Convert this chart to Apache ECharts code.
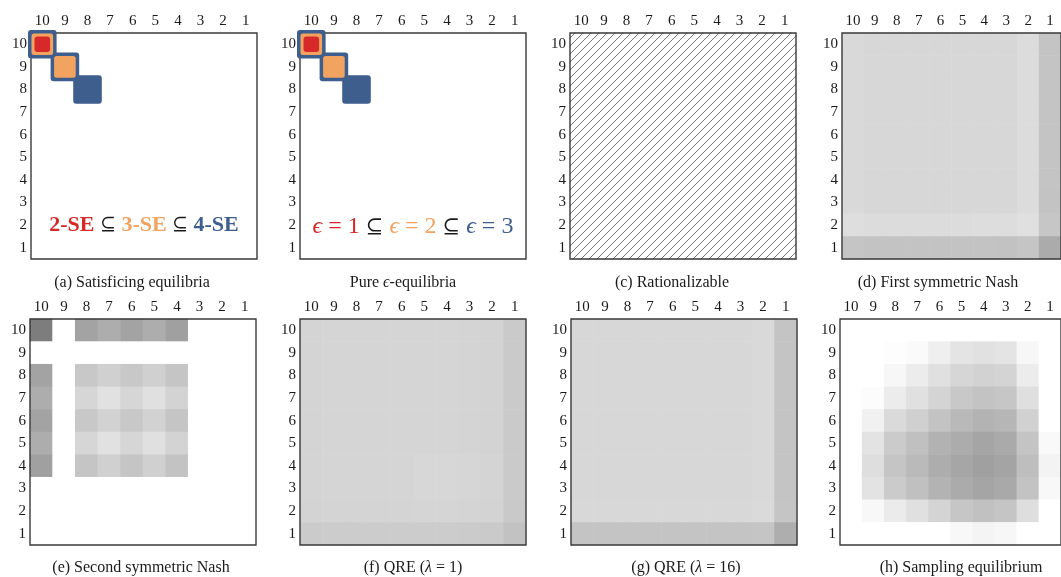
<!DOCTYPE html>
<html><head><meta charset="utf-8">
<script src="https://cdn.jsdelivr.net/npm/echarts@6/dist/echarts.min.js"></script>
<style>html,body{margin:0;padding:0;background:#fff}#c{width:1061px;height:577px}</style>
</head><body><div id="c"></div>
<script>
// ---------------- DATA ----------------
const xCats = ['10','9','8','7','6','5','4','3','2','1'];
const yCats = ['1','2','3','4','5','6','7','8','9','10'];

const captions = ['(a) Satisficing equilibria','Pure ϵ-equilibria','(c) Rationalizable','(d) First symmetric Nash',
                  '(e) Second symmetric Nash','(f) QRE (λ = 1)','(g) QRE (λ = 16)','(h) Sampling equilibrium'];

// (a) satisficing equilibria, cells as [column, row]
const se2 = [[10,10]];
const se3 = [[10,10],[9,9]];
const se4 = [[10,10],[9,9],[8,8]];
// (b) pure epsilon-equilibria
const eps1 = [[10,10]];
const eps2 = [[10,10],[9,9]];
const eps3 = [[10,10],[9,9],[8,8]];

// (c) rationalizable profiles (1 = rationalizable); rows 10->1, columns 10->1
const rationalizable = [
  [1,1,1,1,1,1,1,1,1,1],[1,1,1,1,1,1,1,1,1,1],[1,1,1,1,1,1,1,1,1,1],[1,1,1,1,1,1,1,1,1,1],[1,1,1,1,1,1,1,1,1,1],
  [1,1,1,1,1,1,1,1,1,1],[1,1,1,1,1,1,1,1,1,1],[1,1,1,1,1,1,1,1,1,1],[1,1,1,1,1,1,1,1,1,1],[1,1,1,1,1,1,1,1,1,1]
];

// shade (0 = white .. 255 = black); rows 10->1 top to bottom, columns 10->1 left to right
const firstNash = [
  [38,40,40,40,40,40,40,40,35,59],
  [38,40,40,40,40,40,40,40,35,59],
  [38,40,40,40,40,40,40,40,35,59],
  [38,40,40,40,40,40,40,40,35,59],
  [38,40,40,40,40,40,40,40,35,59],
  [38,40,40,40,40,40,40,40,35,59],
  [38,40,40,40,40,40,40,40,35,59],
  [38,40,40,40,40,40,40,40,35,60],
  [33,35,35,35,35,35,34,34,31,57],
  [58,60,60,60,60,60,60,61,58,84]
];
const secondNash = [
  [130,0,92,82,92,82,95,0,0,0],
  [0,0,0,0,0,0,0,0,0,0],
  [92,0,55,47,55,47,58,0,0,0],
  [82,0,41,30,41,31,44,0,0,0],
  [92,0,55,45,55,45,58,0,0,0],
  [82,0,41,30,41,31,44,0,0,0],
  [95,0,58,47,58,47,60,0,0,0],
  [0,0,0,0,0,0,0,0,0,0],
  [0,0,0,0,0,0,0,0,0,0],
  [0,0,0,0,0,0,0,0,0,0]
];
const qre1 = [
  [43,42,42,42,42,42,42,43,44,53],
  [43,42,42,42,42,42,42,43,44,53],
  [43,42,42,42,42,42,42,43,44,53],
  [43,42,42,42,42,42,42,43,44,53],
  [43,42,42,42,42,42,42,43,44,53],
  [43,42,42,42,42,42,42,43,44,53],
  [43,42,42,42,42,40,40,41,43,53],
  [43,42,42,42,42,40,40,41,43,53],
  [44,43,43,43,43,42,42,43,44,54],
  [52,51,51,51,51,51,51,52,53,61]
];
const qre16 = [
  [40,40,40,40,40,40,40,40,38,59],
  [40,40,40,40,40,40,40,40,38,59],
  [40,40,40,40,40,40,40,40,38,59],
  [40,40,40,40,40,40,40,40,38,59],
  [40,40,40,40,40,40,40,40,38,59],
  [40,40,40,40,40,40,40,40,38,59],
  [40,40,40,40,40,40,40,40,38,59],
  [40,40,40,40,40,40,40,40,38,59],
  [39,39,39,39,39,39,39,39,37,58],
  [59,59,59,59,59,59,59,59,58,81]
];
const sampling = [
  [0,0,0,0,0,0,0,0,0,0],
  [0,0,2,5,16,27,30,27,8,0],
  [0,0,8,19,31,41,45,43,19,0],
  [0,3,19,31,43,55,60,57,32,0],
  [0,14,37,47,60,70,76,73,46,0],
  [0,28,52,63,77,83,90,85,59,6],
  [0,33,58,69,82,89,95,91,65,12],
  [0,28,52,63,76,84,90,86,60,7],
  [0,7,20,31,43,57,62,58,33,0],
  [0,0,0,0,0,7,11,8,0,0]
];

// ---------------- LAYOUT / STYLE ----------------
const FONT = "'Liberation Serif', 'DejaVu Serif', serif";
const RED = '#d7282a', ORANGE = '#f2a35f', BLUE = '#3e5e8e';
const panels = [
  {left:31,  top:33,  capX:132, capY:283},
  {left:300, top:33,  capX:403, capY:283},
  {left:570, top:33,  capX:672, capY:283},
  {left:842, top:33,  capX:938, capY:283},
  {left:30,  top:319, capX:141, capY:568},
  {left:300, top:319, capX:413, capY:568},
  {left:571, top:319, capX:686, capY:568},
  {left:840, top:319, capX:961, capY:568}
];
const SIZE = 226;

function heatData(m){ const out=[]; m.forEach((row,r)=>row.forEach((v,c)=>out.push([c, 9-r, v]))); return out; }
function cellIdx(list){ return list.map(p=>[xCats.indexOf(String(p[0])), yCats.indexOf(String(p[1]))]); }

// hatch pattern
const pc = document.createElement('canvas');
pc.width = 8; pc.height = 8;
const g = pc.getContext('2d');
g.fillStyle = '#fff'; g.fillRect(0,0,8,8);
g.strokeStyle = '#6a6a6a'; g.lineWidth = 0.9;
g.beginPath(); g.moveTo(-1,9); g.lineTo(9,-1); g.moveTo(-1,1); g.lineTo(1,-1); g.moveTo(7,9); g.lineTo(9,7); g.stroke();

const grids=[], xAxes=[], yAxes=[], series=[], graphics=[];
const heatSeriesIdx = [];
panels.forEach((p,i)=>{
  grids.push({left:p.left, top:p.top, width:SIZE, height:SIZE, containLabel:false});
  xAxes.push({type:'category', gridIndex:i, data:xCats, position:'top', axisLine:{show:false}, axisTick:{show:false}, splitLine:{show:false},
    axisLabel:{margin:4, fontFamily:FONT, fontSize:15, color:'#1a1a1a', interval:0}});
  yAxes.push({type:'category', gridIndex:i, data:yCats, axisLine:{show:false}, axisTick:{show:false}, splitLine:{show:false},
    axisLabel:{margin:4, fontFamily:FONT, fontSize:15, color:'#1a1a1a', interval:0}});
  // frame
  series.push({type:'custom', xAxisIndex:i, yAxisIndex:i, z:3, silent:true, data:[[0,0]],
    renderItem:(params)=>{const cs=params.coordSys; return {type:'rect', shape:{x:cs.x, y:cs.y, width:cs.width, height:cs.height},
      style:{fill:null, stroke:'#3a3a3a', lineWidth:1.4}};}});
  graphics.push({type:'text', x:p.capX, y:p.capY, style:{
    text: captions[i].replace(/([ϵλ])/g,'{i|$1}'),
    rich:{i:{fontStyle:'italic', fontFamily:FONT, fontSize:16, fill:'#1a1a1a'}},
    fontFamily:FONT, fontSize:16, fill:'#1a1a1a', align:'center', verticalAlign:'middle', textAlign:'center', textVerticalAlign:'middle'}});
});

function rounded(pad, color, r){
  return function(params, api){
    const c = api.coord([api.value(0), api.value(1)]);
    const s = api.size([1,1]);
    return {type:'rect', shape:{x:c[0]-s[0]/2-pad, y:c[1]-s[1]/2-pad, width:s[0]+2*pad, height:s[1]+2*pad, r:r}, style:{fill:color}};
  };
}
[[se4,se3,se2,0],[eps3,eps2,eps1,1]].forEach(([big,mid,small,gi])=>{
  series.push({type:'custom', xAxisIndex:gi, yAxisIndex:gi, z:5, silent:true, clip:false, data:cellIdx(big), renderItem:rounded(3, BLUE, 3)});
  series.push({type:'custom', xAxisIndex:gi, yAxisIndex:gi, z:6, silent:true, clip:false, data:cellIdx(mid), renderItem:rounded(-0.5, ORANGE, 2.5)});
  series.push({type:'custom', xAxisIndex:gi, yAxisIndex:gi, z:7, silent:true, clip:false, data:cellIdx(small), renderItem:rounded(-3.5, RED, 3)});
});

// (c) hatched cells
series.push({type:'custom', xAxisIndex:2, yAxisIndex:2, z:2, silent:true,
  data: heatData(rationalizable).filter(d=>d[2]===1),
  renderItem:(params, api)=>{
    const c = api.coord([api.value(0), api.value(1)]); const s = api.size([1,1]);
    return {type:'rect', shape:{x:c[0]-s[0]/2-0.5, y:c[1]-s[1]/2-0.5, width:s[0]+1, height:s[1]+1},
      style:{fill:{image:pc, repeat:'repeat'}}};
  }});

[[firstNash,3],[secondNash,4],[qre1,5],[qre16,6],[sampling,7]].forEach(([m,gi])=>{
  heatSeriesIdx.push(series.length);
  series.push({type:'heatmap', xAxisIndex:gi, yAxisIndex:gi, z:2, silent:true, data:heatData(m), emphasis:{disabled:true}});
});

// in-panel annotations
graphics.push({type:'text', x:144, y:225, style:{
  text:'{r|2-SE} {k|⊆} {o|3-SE} {k|⊆} {b|4-SE}',
  rich:{
    r:{fill:RED, fontWeight:'bold', fontFamily:FONT, fontSize:22},
    o:{fill:ORANGE, fontWeight:'bold', fontFamily:FONT, fontSize:22},
    b:{fill:BLUE, fontWeight:'bold', fontFamily:FONT, fontSize:22},
    k:{fill:'#1a1a1a', fontFamily:FONT, fontSize:19}
  }, fontFamily:FONT, fontSize:22, align:'center', verticalAlign:'middle', textAlign:'center', textVerticalAlign:'middle'}});
graphics.push({type:'text', x:413, y:227, style:{
  text:'{ri|ϵ}{r| = 1} {k|⊆} {oi|ϵ}{o| = 2} {k|⊆} {bi|ϵ}{b| = 3}',
  rich:{
    ri:{fill:RED, fontStyle:'italic', fontFamily:FONT, fontSize:24},
    r:{fill:RED, fontFamily:FONT, fontSize:24},
    oi:{fill:ORANGE, fontStyle:'italic', fontFamily:FONT, fontSize:24},
    o:{fill:ORANGE, fontFamily:FONT, fontSize:24},
    bi:{fill:BLUE, fontStyle:'italic', fontFamily:FONT, fontSize:24},
    b:{fill:BLUE, fontFamily:FONT, fontSize:24},
    k:{fill:'#1a1a1a', fontFamily:FONT, fontSize:21}
  }, fontFamily:FONT, fontSize:24, align:'center', verticalAlign:'middle', textAlign:'center', textVerticalAlign:'middle'}});

const chart = echarts.init(document.getElementById('c'), null, {renderer:'canvas'});
chart.setOption({
  animation:false,
  backgroundColor:'#fff',
  grid:grids, xAxis:xAxes, yAxis:yAxes,
  visualMap:{type:'continuous', show:false, min:0, max:255, seriesIndex:heatSeriesIdx, inRange:{color:['#ffffff','#000000']}},
  series:series,
  graphic:graphics
});
</script></body></html>
